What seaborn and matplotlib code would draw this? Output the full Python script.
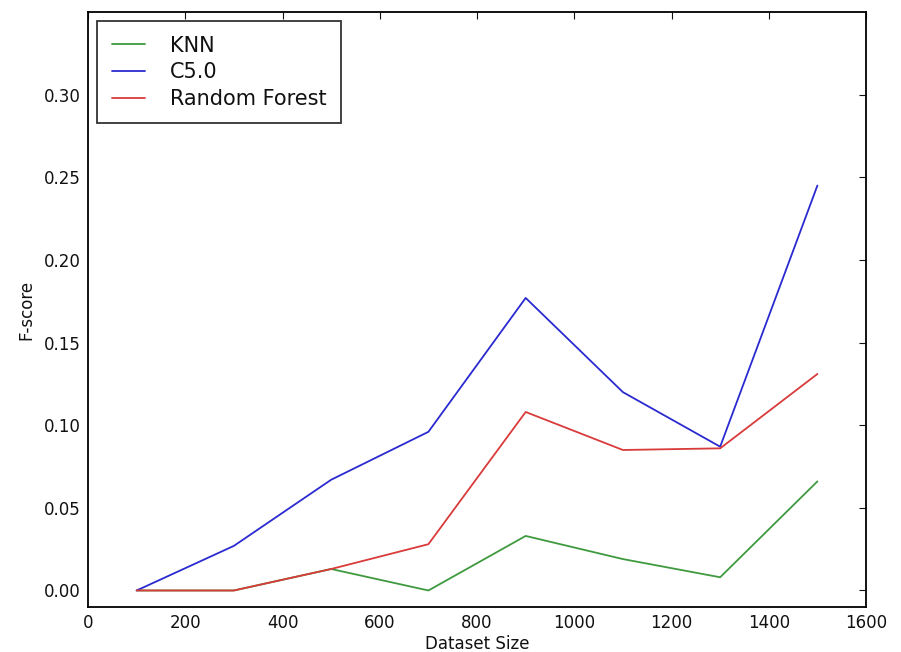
import matplotlib
matplotlib.use("Agg")
import matplotlib.pyplot as plt
import seaborn as sns
import pandas as pd

sizes = [100, 300, 500, 700, 900, 1100, 1300, 1500]
knn = [0.0, 0.0, 0.013, 0.0, 0.033, 0.019, 0.008, 0.066]
c50 = [0.0, 0.027, 0.067, 0.096, 0.177, 0.120, 0.087, 0.245]
rf = [0.0, 0.0, 0.013, 0.028, 0.108, 0.085, 0.086, 0.131]
series_names = ["KNN", "C5.0", "Random Forest"]
colors = ["#3f9a3f", "#2a2ad0", "#d93a3a"]

df = pd.concat([
    pd.DataFrame({"Dataset Size": sizes, "F-score": vals, "model": name})
    for name, vals in zip(series_names, [knn, c50, rf])
])

sns.set_style("white")
plt.rcParams["font.family"] = ["DejaVu Sans"]
plt.rcParams["text.color"] = "#111111"
plt.rcParams["axes.labelcolor"] = "#111111"
fig = plt.figure(figsize=(9.01, 6.52), dpi=100)
ax = fig.add_axes([0.0977, 0.069, 0.8635, 0.9126])
sns.lineplot(data=df, x="Dataset Size", y="F-score", hue="model",
             hue_order=series_names, palette=colors, ax=ax, linewidth=1.3,
             legend=True)
ax.set_xlim(0, 1600)
ax.set_ylim(-0.01, 0.35)
ax.set_xticks(range(0, 1601, 200))
ax.set_yticks([0.0, 0.05, 0.10, 0.15, 0.20, 0.25, 0.30])
ax.set_yticklabels(["0.00", "0.05", "0.10", "0.15", "0.20", "0.25", "0.30"])
ax.tick_params(direction="in", top=True, right=True, length=5, width=0.8,
               labelsize=12, colors="#111111", pad=5)
for s in ax.spines.values():
    s.set_color("black")
    s.set_linewidth(1.3)
ax.set_xlabel("Dataset Size", fontsize=12, labelpad=2)
ax.set_ylabel("F-score", fontsize=12, labelpad=6)
leg = ax.legend(loc="upper left", fontsize=15, frameon=True, fancybox=False,
                edgecolor="black", handlelength=1.6, handletextpad=1.2,
                borderpad=0.7, borderaxespad=0, labelspacing=0.32,
                bbox_to_anchor=(0.0116, 0.985))
leg.get_frame().set_linewidth(1.3)
fig.savefig("out.png", dpi=100)
